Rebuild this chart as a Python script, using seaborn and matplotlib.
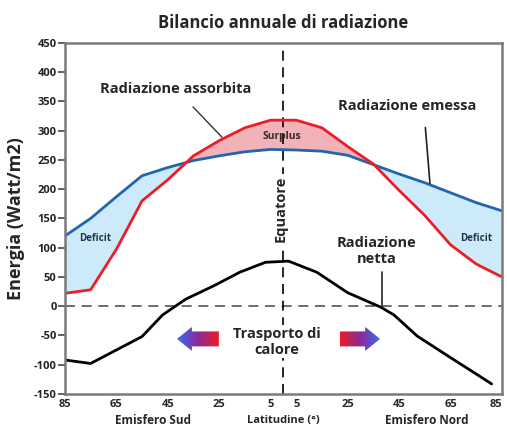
import numpy as np
import matplotlib
matplotlib.use("Agg")
import matplotlib.pyplot as plt
import seaborn as sns
from matplotlib.patches import Polygon
from matplotlib.colors import LinearSegmentedColormap

# ---------------- DATA ----------------
latitude = [-85, -75, -65, -55, -45, -35, -25, -15, -5, 5, 15, 25, 35, 45, 55, 65, 75, 85]
absorbed = [22, 28, 97, 180, 216, 257, 283, 305, 318, 318, 305, 273, 243, 198, 155, 105, 72, 50]
emitted = [120, 150, 187, 223, 237, 249, 257, 264, 268, 267, 265, 258, 242, 226, 211, 194, 177, 163]
lat_net = [-85, -75, -65, -55, -47, -38, -27, -17, -7, 2, 13, 25, 38, 43, 52, 65, 75, 81]
net = [-92, -98, -75, -52, -15, 12, 35, 58, 75, 77, 58, 23, -2, -15, -51, -88, -116, -133]

tick_pos = list(range(-85, 86, 10))
label_pos = [-85, -65, -45, -25, -5, 5, 25, 45, 65, 85]

RED = "#ee1c25"
BLUE = "#2166ac"

# ---------------- STYLE ----------------
sns.set_style("white")
plt.rcParams["font.family"] = ["Open Sans", "DejaVu Sans"]
plt.rcParams["font.weight"] = "bold"

fig = plt.figure(figsize=(5.07, 4.30), dpi=100)
ax = fig.add_axes([0.128, 0.084, 0.862, 0.816])

# fills between absorbed and emitted
a = np.array(absorbed)
e = np.array(emitted)
ax.fill_between(latitude, a, e, where=a >= e, interpolate=True, color="#f2b3b8", lw=0)
ax.fill_between(latitude, a, e, where=e >= a, interpolate=True, color="#cdeafa", lw=0)

sns.lineplot(x=latitude, y=emitted, ax=ax, color=BLUE, lw=2)
sns.lineplot(x=latitude, y=absorbed, ax=ax, color=RED, lw=2)
sns.lineplot(x=lat_net, y=net, ax=ax, color="black", lw=2)

ax.axhline(0, color="#555555", lw=1.2, ls=(0, (6, 4)), zorder=1)
ax.axvline(0, color="black", lw=1.2, ls=(0, (6, 4)), zorder=1)

ax.set_xlim(-85, 85)
ax.set_ylim(-150, 450)

# ticks
ax.set_xticks(tick_pos)
ax.set_xticklabels([str(abs(t)) if t in label_pos else "" for t in tick_pos],
                   fontsize=8, fontweight="bold")
ax.get_xticklabels()[-1].set_horizontalalignment("right")
ax.tick_params(axis="x", direction="in", length=7, width=1.3, color="#333333", pad=4)
ax.set_yticks(range(-150, 451, 50))
ax.set_yticklabels([str(v) for v in range(-150, 451, 50)], fontsize=8,
                   fontweight="bold", color="#222222")
ax.tick_params(axis="y", direction="out", length=5, width=1.3, color="#555555", pad=1, left=True)
for s in ax.spines.values():
    s.set_color("#7a7a7a")
    s.set_linewidth(1.8)

ax.set_title("Bilancio annuale di radiazione", fontsize=12, fontweight="bold", pad=11)
ax.set_ylabel("Energia (Watt/m2)", fontsize=13, fontweight="bold", labelpad=6)

# annotations
ax.annotate("Radiazione assorbita", xy=(-23.9, 289), xytext=(-42, 372),
            ha="center", va="center", fontsize=10.5, fontweight="bold",
            arrowprops=dict(arrowstyle="-", color="#333333", lw=1,
                            shrinkA=8, shrinkB=0))
ax.annotate("Radiazione emessa", xy=(57, 210), xytext=(48.3, 342),
            ha="center", va="center", fontsize=10.5, fontweight="bold",
            arrowprops=dict(arrowstyle="-", color="#222222", lw=1.2,
                            shrinkA=8, shrinkB=0, relpos=(0.62, 0)))
ax.text(36.3, 95, "Radiazione\nnetta", ha="center", va="center", fontsize=10.5,
        fontweight="bold", linespacing=1.2)
ax.plot([38.2, 38.2], [58, -2], color="#222222", lw=1.2)
ax.text(-0.5, 290, "Surplus", ha="center", va="center", fontsize=7.5,
        fontweight="bold", color="#3a2a2a", zorder=5)
ax.text(-73.4, 116, "Deficit", ha="center", va="center", fontsize=7,
        fontweight="bold", color="#1f3550")
ax.text(74.8, 116, "Deficit", ha="center", va="center", fontsize=7,
        fontweight="bold", color="#1f3550")
ax.text(-1.2, 166, "Equatore", rotation=90, ha="center", va="center", fontsize=10.5,
        fontweight="bold", zorder=6,
        bbox=dict(facecolor="white", edgecolor="none", pad=1))
ax.text(-2.5, -61, "Trasporto di\ncalore", ha="center", va="center", fontsize=10.5,
        fontweight="bold", linespacing=1.2, zorder=6,
        bbox=dict(facecolor="white", edgecolor="none", pad=1))


# gradient arrows
cmap = LinearSegmentedColormap.from_list("heat", [RED, "#8a2a9a", "#3a6df0"])


def gradient_arrow(x_tail, x_tip, y, body=12.8, head=20.5, head_len=5.8):
    d = np.sign(x_tip - x_tail)
    xb = x_tip - d * head_len
    verts = [(x_tail, y - body), (xb, y - body), (xb, y - head), (x_tip, y),
             (xb, y + head), (xb, y + body), (x_tail, y + body)]
    poly = Polygon(verts, closed=True, facecolor="none", edgecolor="none")
    ax.add_patch(poly)
    grad = np.linspace(0, 1, 256).reshape(1, -1)
    if d < 0:
        grad = grad[:, ::-1]
    im = ax.imshow(grad, cmap=cmap, aspect="auto",
                   extent=[min(x_tail, x_tip), max(x_tail, x_tip), y - head, y + head],
                   zorder=3)
    im.set_clip_path(poly)


gradient_arrow(-25.1, -41.4, -56)
gradient_arrow(22.0, 37.6, -56)
ax.set_xlim(-85, 85)
ax.set_ylim(-150, 450)

# hemisphere labels
fig.text(153 / 507, 1 - 421 / 430, "Emisfero Sud", ha="center", va="center",
         fontsize=8.5, fontweight="bold")
fig.text(283 / 507, 1 - 421 / 430, "Latitudine (°)", ha="center", va="center",
         fontsize=8, fontweight="bold")
fig.text(427 / 507, 1 - 421 / 430, "Emisfero Nord", ha="center", va="center",
         fontsize=8.5, fontweight="bold")

fig.savefig("out.png", dpi=100)
